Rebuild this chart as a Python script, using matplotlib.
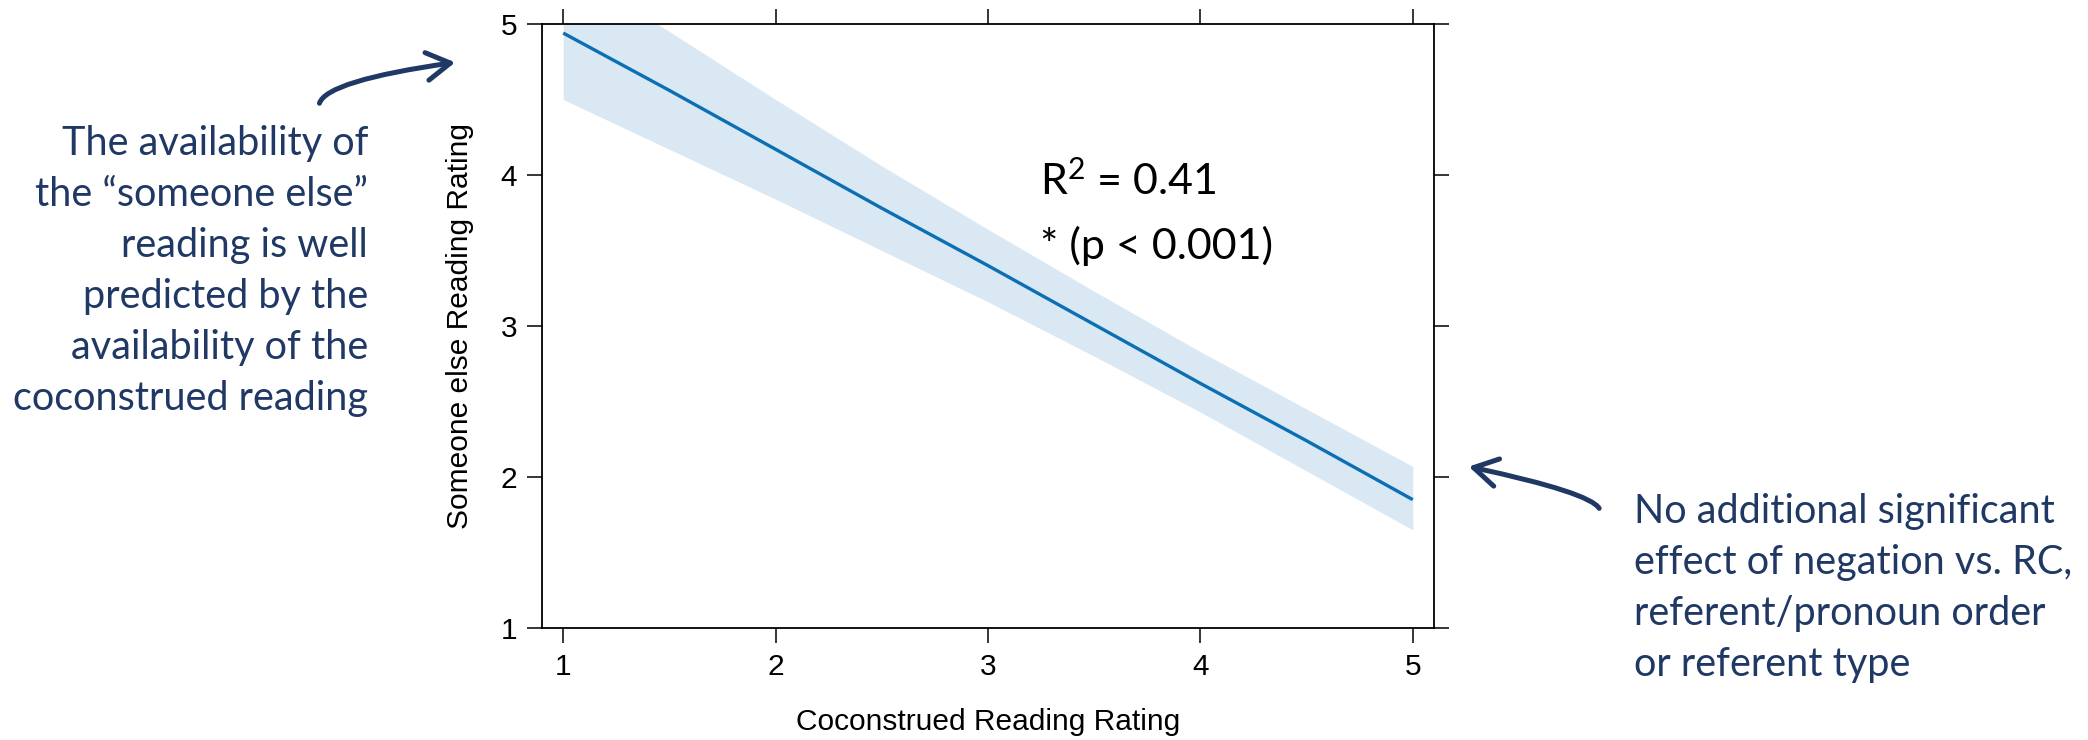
import numpy as np
import matplotlib
matplotlib.use("Agg")
import matplotlib.pyplot as plt
from matplotlib.patches import FancyArrowPatch

# ── data ────────────────────────────────────────────────────────────
x_grid = [1.0, 1.5, 2.0, 2.5, 3.0, 3.5, 4.0, 4.5, 5.0]
fit    = [4.94, 4.56, 4.17, 3.78, 3.40, 3.01, 2.62, 2.24, 1.85]
lower  = [4.50, 4.17, 3.84, 3.50, 3.16, 2.80, 2.43, 2.04, 1.65]
upper  = [5.39, 4.95, 4.50, 4.06, 3.64, 3.23, 2.83, 2.45, 2.07]

x_ticks = [1, 2, 3, 4, 5]
y_ticks = [1, 2, 3, 4, 5]

stats_lines = [r"R$^{\mathrm{2}}$ = 0.41", "* (p < 0.001)"]
left_note = ["The availability of",
             "the \u201csomeone else\u201d",
             "reading is well",
             "predicted by the",
             "availability of the",
             "coconstrued reading"]
right_note = ["No additional significant",
              "effect of negation vs. RC,",
              "referent/pronoun order",
              "or referent type"]

NAVY = "#1F3864"
LINE = "#0B70B3"
BAND = "#D9E8F2"
W, H = 2088, 740

plt.rcParams["font.family"] = ["Liberation Sans", "DejaVu Sans"]
plt.rcParams["mathtext.fontset"] = "custom"
plt.rcParams["mathtext.rm"] = "Lato"
plt.rcParams["mathtext.it"] = "Lato:italic"

fig = plt.figure(figsize=(W / 100, H / 100), dpi=100)
ax = fig.add_axes([542 / W, 1 - 628 / H, (1434 - 542) / W, (628 - 24) / H])

ax.fill_between(x_grid, lower, upper, color=BAND, linewidth=0)
ax.plot(x_grid, fit, color=LINE, linewidth=2.4, solid_capstyle="butt")

ax.set_xlim(0.9, 5.1)
ax.set_ylim(1, 5)
ax.set_xticks(x_ticks)
ax.set_yticks(y_ticks)
ax.tick_params(direction="out", length=10.8, width=1.1, pad=7,
               labelsize=21.5, top=True, right=True,
               labeltop=False, labelright=False)
for s in ax.spines.values():
    s.set_linewidth(1.3)

ax.set_xlabel("Coconstrued Reading Rating", fontsize=21.5, labelpad=20)
ax.set_ylabel("Someone else Reading Rating", fontsize=21.5, labelpad=19)

# stats annotation
for i, t in enumerate(stats_lines):
    fig.text(1040 / W, 1 - (195 + 64 * i) / H, t, fontsize=31,
             family=["Lato", "DejaVu Sans"], va="baseline", ha="left")

# side notes
for i, t in enumerate(left_note):
    fig.text(368 / W, 1 - (155 + 51 * i) / H, t, fontsize=28.5, color=NAVY,
             family=["Lato", "DejaVu Sans"], va="baseline", ha="right")
for i, t in enumerate(right_note):
    fig.text(1634 / W, 1 - (523 + 51 * i) / H, t, fontsize=28.5, color=NAVY,
             family=["Lato", "DejaVu Sans"], va="baseline", ha="left")

# curved arrows (figure pixel positions)
def px(x, y):
    return (x / W, 1 - y / H)

arrow_kw = dict(transform=fig.transFigure, color=NAVY, linewidth=3.6,
                arrowstyle="->,head_length=0.85,head_width=0.5",
                mutation_scale=20, capstyle="round", joinstyle="round")
fig.add_artist(FancyArrowPatch(px(319, 106), px(458, 62),
                               connectionstyle="angle3,angleA=90,angleB=8",
                               **arrow_kw))
fig.add_artist(FancyArrowPatch(px(1600, 511), px(1466, 466),
                               connectionstyle="angle3,angleA=90,angleB=-12",
                               **arrow_kw))

fig.savefig("out.png", dpi=100)
